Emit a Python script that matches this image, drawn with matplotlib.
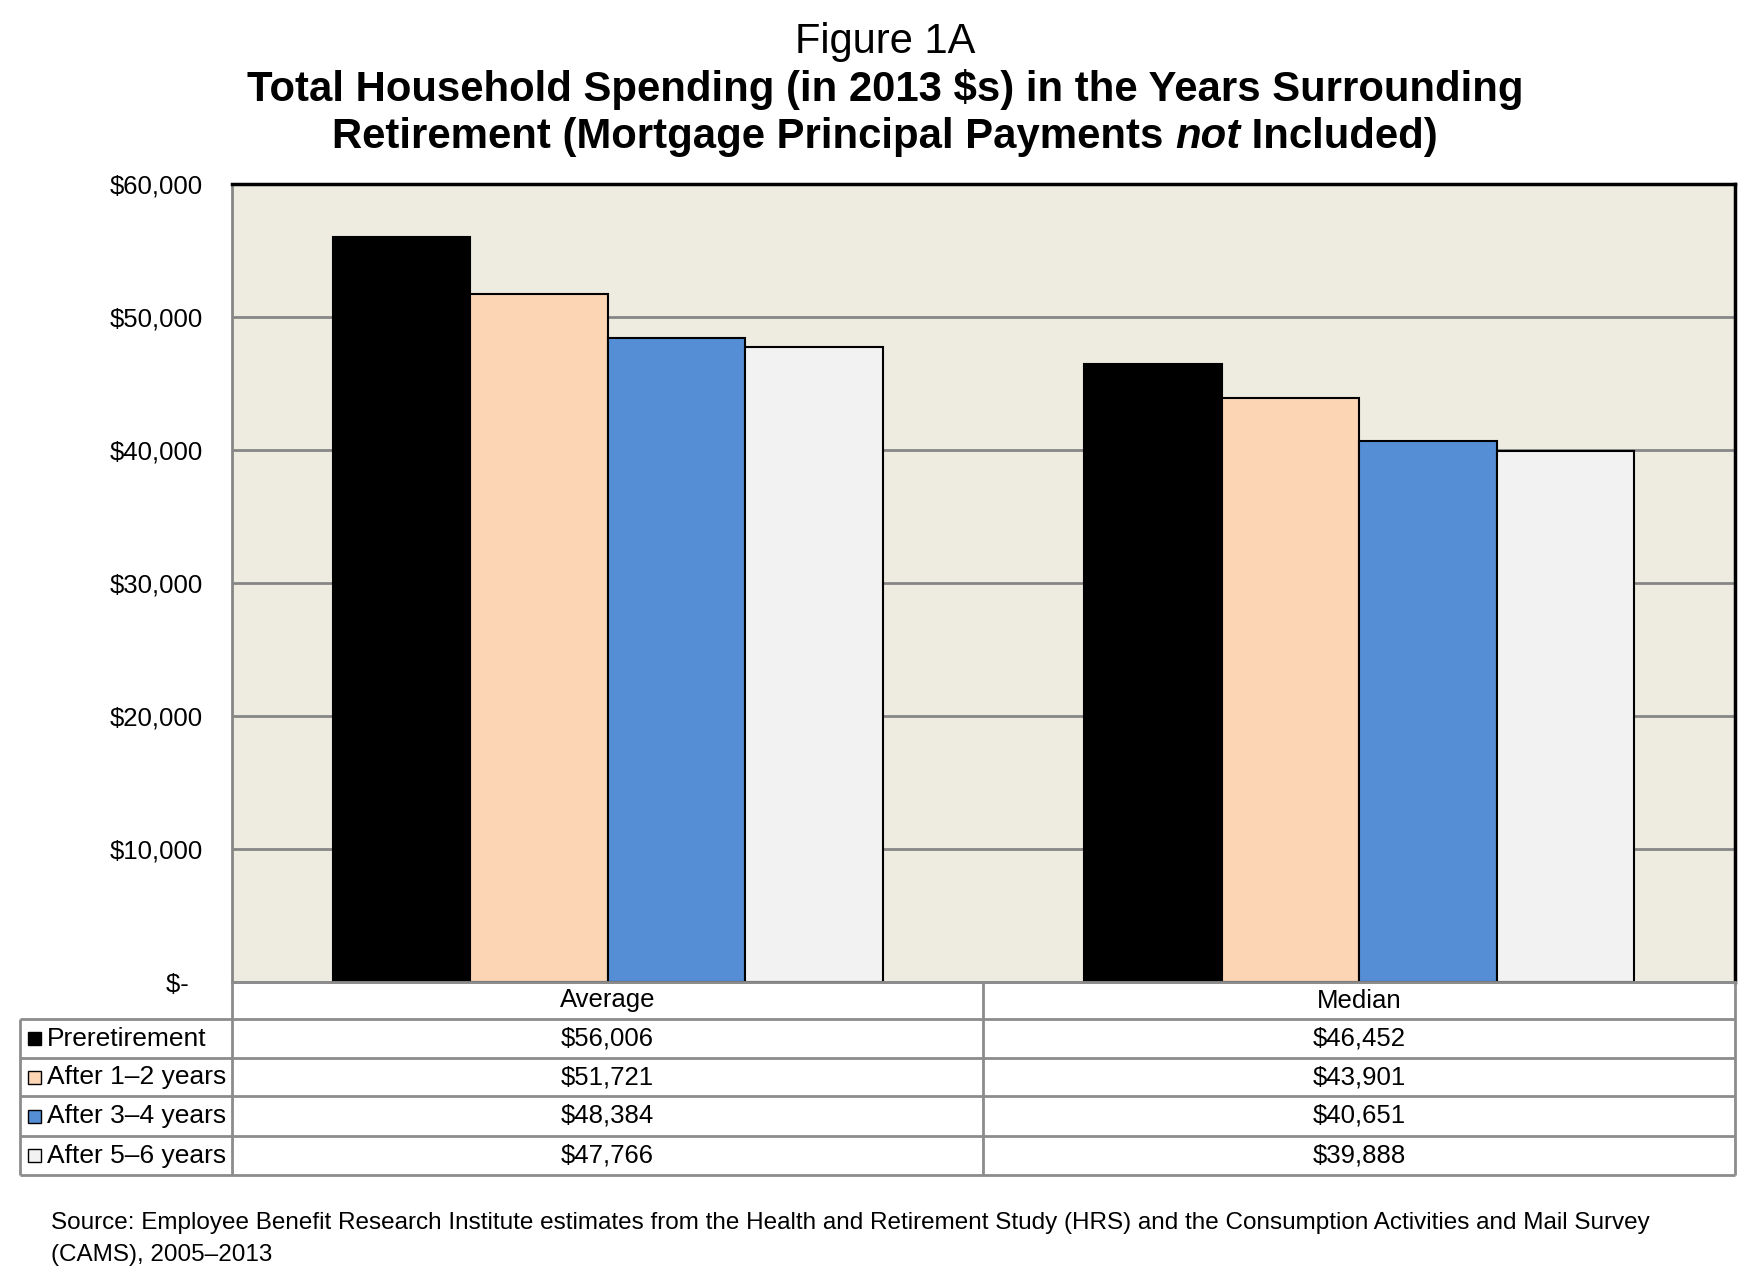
import numpy as np
import matplotlib
matplotlib.use('Agg')
import matplotlib.pyplot as plt
from matplotlib.patches import Rectangle

plt.rcParams['font.family'] = ['Liberation Sans', 'DejaVu Sans']

# Dados
grupos = ['Average', 'Median']
series = ['Preretirement', 'After 1\u20132 years', 'After 3\u20134 years', 'After 5\u20136 years']
preretirement = [56006, 46452]
after_1_2 = [51721, 43901]
after_3_4 = [48384, 40651]
after_5_6 = [47766, 39888]
valores = [preretirement, after_1_2, after_3_4, after_5_6]
yticks = [0, 10000, 20000, 30000, 40000, 50000, 60000]
ytick_labels = ['$-  ', '$10,000', '$20,000', '$30,000', '$40,000', '$50,000', '$60,000']

cores = ['#000000', '#FCD5B5', '#558ED5', '#F2F2F2']
fundo = '#EEEBE0'
cinza = '#8C8C8C'

W, H = 1761, 1285
fig = plt.figure(figsize=(W / 100, H / 100), dpi=100)

# area do grafico (em pixels)
px_l, px_r, px_t, px_b = 232, 1735, 184, 982
ax = fig.add_axes([px_l / W, 1 - px_b / H, (px_r - px_l) / W, (px_b - px_t) / H])
ax.set_facecolor(fundo)

x = np.arange(len(grupos))
larg = 0.183
for i, (nome, v) in enumerate(zip(series, valores)):
    ax.bar(x + (i - 1.5) * larg, v, larg, color=cores[i], edgecolor='black',
           linewidth=1.5, zorder=3)

ax.set_xlim(-0.5, 1.5)
ax.set_ylim(0, 60000)
ax.set_yticks(yticks)
ax.set_yticklabels(ytick_labels, fontsize=18.5)
ax.set_xticks([])
ax.tick_params(axis='y', length=0, pad=21)
ax.grid(axis='y', color='#868686', linewidth=2, zorder=1)
ax.spines['left'].set_color('#868686')
ax.spines['left'].set_linewidth(2)
ax.spines['bottom'].set_color(cinza)
ax.spines['bottom'].set_linewidth(2)
for s in ['top', 'right']:
    ax.spines[s].set_color('black')
    ax.spines[s].set_linewidth(2.5)

# camada de sobreposicao para titulo, tabela e fonte
ov = fig.add_axes([0, 0, 1, 1], zorder=5)
ov.set_xlim(0, W)
ov.set_ylim(H, 0)
ov.axis('off')

cx = 885
ov.text(cx, 42, 'Figure 1A', fontsize=30, ha='center', va='center')
ov.text(cx, 89, 'Total Household Spending (in 2013 $s) in the Years Surrounding',
        fontsize=30.2, fontweight='bold', ha='center', va='center')

# linha 3 com "not" em italico
partes = [('Retirement (Mortgage Principal Payments ', 'normal'), ('not', 'italic'),
          (' Included)', 'normal')]
fig.canvas.draw()
r = fig.canvas.get_renderer()
objs = []
for txt, estilo in partes:
    t = ov.text(0, 137, txt, fontsize=30.2, fontweight='bold', style=estilo,
                ha='left', va='center')
    objs.append(t)
larguras = []
for t in objs:
    bb = t.get_window_extent(renderer=r)
    larguras.append(bb.width)
x0 = cx - sum(larguras) / 2
for t, lw in zip(objs, larguras):
    t.set_x(x0)
    x0 += lw

# tabela
col_l, col_m = 20, 983
linhas_y = [982, 1019, 1058, 1096, 1136, 1175]
kw = dict(color=cinza, linewidth=2, solid_capstyle='butt')
ov.plot([px_l, px_r], [linhas_y[0], linhas_y[0]], **kw)
for y in linhas_y[1:]:
    ov.plot([col_l, px_r], [y, y], **kw)
ov.plot([col_l, col_l], [linhas_y[1], linhas_y[-1]], **kw)
for xv in [px_l, col_m, px_r]:
    ov.plot([xv, xv], [linhas_y[0], linhas_y[-1]], **kw)

centros_col = [(px_l + col_m) / 2, (col_m + px_r) / 2]
y_head = (linhas_y[0] + linhas_y[1]) / 2
for c, g in zip(centros_col, grupos):
    ov.text(c, y_head, g, fontsize=18.5, ha='center', va='center')

for i, (nome, v) in enumerate(zip(series, valores)):
    yc = (linhas_y[i + 1] + linhas_y[i + 2]) / 2
    ov.add_patch(Rectangle((28, yc - 6.5), 13, 13, facecolor=cores[i],
                           edgecolor='black', linewidth=1))
    ov.text(47, yc, nome, fontsize=19, ha='left', va='center')
    for c, val in zip(centros_col, v):
        ov.text(c, yc, '${:,}'.format(val), fontsize=18.5, ha='center', va='center')

ov.text(51, 1223, 'Source: Employee Benefit Research Institute estimates from the Health and '
        'Retirement Study (HRS) and the Consumption Activities and Mail Survey',
        fontsize=17.5, ha='left', va='center')
ov.text(51, 1255, '(CAMS), 2005\u20132013', fontsize=17.5, ha='left', va='center')

fig.savefig('out.png', dpi=100)
